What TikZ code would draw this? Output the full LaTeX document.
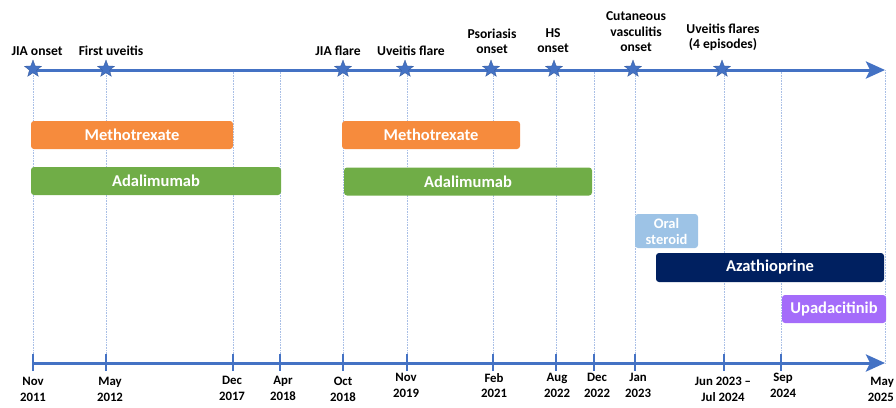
\documentclass[tikz,border=0pt]{standalone}
\usepackage{fontspec}
\setmainfont{Carlito}[BoldFont={Carlito Bold}]
\usetikzlibrary{shapes.geometric,arrows.meta}
\definecolor{axisblue}{HTML}{4472C4}
\definecolor{gridblue}{HTML}{A9BFE6}
\definecolor{mtx}{HTML}{F68B3D}
\definecolor{ada}{HTML}{70AD47}
\definecolor{ster}{HTML}{9DC3E6}
\definecolor{aza}{HTML}{002060}
\definecolor{upa}{HTML}{A46CFA}
\tikzset{
  axisline/.style={draw=axisblue,line width=3pt,-{Stealth[length=19pt,width=17pt,inset=4pt]}},
  gridline/.style={draw=gridblue,line width=0.6pt,densely dotted},
  evstar/.style={star,star points=5,star point ratio=2.4,minimum size=18pt,inner sep=0pt,fill=axisblue,draw=axisblue!80!black,line width=0.3pt},
  evlabel/.style={font=\bfseries\fontsize{13.6}{15.5}\selectfont,align=center,anchor=south,inner sep=0pt},
  datelabel/.style={font=\bfseries\fontsize{12.8}{15.5}\selectfont,align=center,anchor=north,inner sep=0pt},
  tick/.style={draw=axisblue,line width=2.2pt},
  bar/.style={rounded corners=3pt,inner sep=0pt,font=\bfseries\fontsize{16.5}{17}\selectfont,text=white,align=center},
}
\begin{document}
\begin{tikzpicture}[x=1pt,y=-1pt]
\useasboundingbox (0,0) rectangle (896,407);
% date positions
\foreach \n/\x in {a/33,b/106,c/233,d/280,e/343,f/407,g/493,h/556,i/594,j/635,k/724,l/781,m/885}{
  \coordinate (t\n) at (\x,70);
  \coordinate (b\n) at (\x,363);
}
% grid lines
\foreach \n in {a,b,c,d,e,f,g,h,i,j,k,l,m}{
  \draw[gridline] (t\n) -- (b\n);
}
% axes
\coordinate (tstart) at (32,70);
\coordinate (tend) at (885,70);
\coordinate (bstart) at (33,363);
\coordinate (bend) at (885,363);
\draw[axisline] (tstart) -- (tend);
\draw[axisline] (bstart) -- (bend);
% ticks
\foreach \n in {a,b,c,d,e,f,g,h,i,j,k,l}{
  \draw[tick] ([yshift=-8pt]b\n) -- ([yshift=9pt]b\n);
}
% stars and event labels
\node[evstar] (s1) at (33,69) {};
\node[evstar] (s2) at (106,69) {};
\node[evstar] (s3) at (343,69) {};
\node[evstar] (s4) at (405,69) {};
\node[evstar] (s5) at (491,69) {};
\node[evstar] (s6) at (554,69) {};
\node[evstar] (s7) at (633,69) {};
\node[evstar] (s8) at (722,69) {};
\node[evlabel] (l1) at (37,56) {JIA onset};
\node[evlabel] (l2) at (111,56) {First uveitis};
\node[evlabel] (l3) at (338,56) {JIA flare};
\node[evlabel] (l4) at (411,56) {Uveitis flare};
\node[evlabel] (l5) at (492,54) {Psoriasis\\onset};
\node[evlabel] (l6) at (553,53) {HS\\onset};
\node[evlabel] (l7) at (636,52) {Cutaneous\\vasculitis\\onset};
\node[evlabel] (l8) at (723,51) {Uveitis flares\\(4 episodes)};
% bars
\node[bar,fill=mtx,minimum width=202pt,minimum height=28pt] (mtx1) at (132,135) {Methotrexate};
\node[bar,fill=ada,minimum width=250pt,minimum height=28pt] (ada1) at (156,181) {Adalimumab};
\node[bar,fill=mtx,minimum width=178pt,minimum height=28pt] (mtx2) at (431,135) {Methotrexate};
\node[bar,fill=ada,minimum width=248pt,minimum height=28pt] (ada2) at (468,181.5) {Adalimumab};
\node[bar,fill=ster,minimum width=63pt,minimum height=34pt,font=\bfseries\fontsize{14.5}{16}\selectfont] (ster) at (666.5,231) {Oral\\steroid};
\node[bar,fill=aza,minimum width=228pt,minimum height=29pt] (aza) at (770,267.5) {Azathioprine};
\node[bar,fill=upa,minimum width=104pt,minimum height=28pt] (upa) at (834,309) {Upadacitinib};
% date labels
\node[datelabel] (d1) at (33,377) {Nov\\2011};
\node[datelabel] (d2) at (110,377) {May\\2012};
\node[datelabel] (d3) at (232,376) {Dec\\2017};
\node[datelabel] (d4) at (283,376) {Apr\\2018};
\node[datelabel] (d5) at (343,377) {Oct\\2018};
\node[datelabel] (d6) at (406,373) {Nov\\2019};
\node[datelabel] (d7) at (494,373) {Feb\\2021};
\node[datelabel] (d8) at (557,373) {Aug\\2022};
\node[datelabel] (d9) at (597,373) {Dec\\2022};
\node[datelabel] (d10) at (638,373) {Jan\\2023};
\node[datelabel] (d11) at (723,377) {Jun 2023 --\\Jul 2024};
\node[datelabel] (d12) at (783,373) {Sep\\2024};
\node[datelabel,align=right,anchor=north east] (d13) at (894,377) {May\\2025};
\end{tikzpicture}
\end{document}
